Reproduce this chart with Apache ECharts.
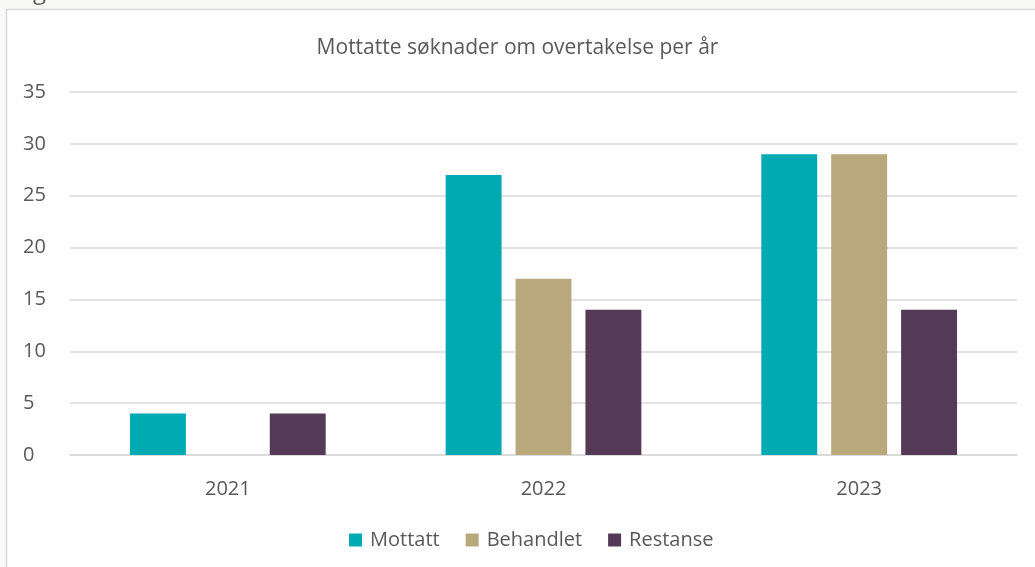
<!DOCTYPE html>
<html><head><meta charset="utf-8">
<script src="https://cdn.jsdelivr.net/npm/echarts@6/dist/echarts.min.js"></script>
<style>html,body{margin:0;padding:0;background:#f9f9f8;}#c{width:1035px;height:567px;}</style>
</head><body><div id="c"></div>
<script>
const categories = ['2021', '2022', '2023'];
const mottatt = [4, 27, 29];
const behandlet = [0, 17, 29];
const restanse = [4, 14, 14];
const yTicks = [0, 5, 10, 15, 20, 25, 30, 35];

const chart = echarts.init(document.getElementById('c'), null, {renderer: 'canvas'});
const font = '"Open Sans", "Noto Sans", sans-serif';
const txt = '#595959';
chart.setOption({
  backgroundColor: '#f9f9f8',
  animation: false,
  graphic: [
    {type: 'rect', shape: {x: 6.5, y: 9.5, width: 1040, height: 600}, style: {fill: '#ffffff', stroke: '#d9d9d9', lineWidth: 1.5}, z: -10},
    {type: 'text', left: 33, top: -20, style: {text: 'g', font: '24px "Open Sans"', fill: '#595959'}}
  ],
  title: {
    text: 'Mottatte søknader om overtakelse per år',
    left: 'center', top: 33,
    textStyle: {fontFamily: font, fontSize: 21, fontWeight: 'normal', color: txt}
  },
  legend: {
    bottom: 12, left: 344, itemWidth: 13, itemHeight: 13, itemGap: 26,
    icon: 'rect',
    textStyle: {fontFamily: font, fontSize: 20, color: txt, padding: [0, 0, 0, 3]},
    data: ['Mottatt', 'Behandlet', 'Restanse']
  },
  grid: {left: 70, right: 18, top: 92, bottom: 112, containLabel: false},
  xAxis: {
    type: 'category', data: categories,
    axisLine: {lineStyle: {color: '#d9d9d9', width: 1.5}},
    axisTick: {show: false},
    axisLabel: {fontFamily: font, fontSize: 20, color: txt, margin: 24}
  },
  yAxis: {
    type: 'value', min: yTicks[0], max: yTicks[yTicks.length - 1], interval: 5,
    axisLine: {show: false}, axisTick: {show: false},
    splitLine: {lineStyle: {color: '#d9d9d9', width: 1.5}},
    axisLabel: {fontFamily: font, fontSize: 20, color: txt, margin: 47, align: 'left',
      formatter: v => yTicks.includes(v) ? String(v) : ''}
  },
  series: [
    {name: 'Mottatt', type: 'bar', data: mottatt, itemStyle: {color: '#00aab3'}, barGap: '25%', barCategoryGap: '38%'},
    {name: 'Behandlet', type: 'bar', data: behandlet, itemStyle: {color: '#b8a87b'}},
    {name: 'Restanse', type: 'bar', data: restanse, itemStyle: {color: '#553a58'}}
  ]
});
</script></body></html>
